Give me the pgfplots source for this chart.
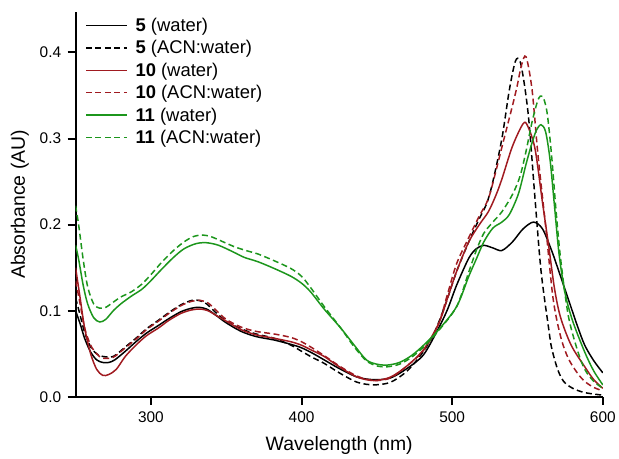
\documentclass[border=0pt]{standalone}
\usepackage{fontspec}
\setmainfont{Liberation Sans}
\usepackage{pgfplots}
\pgfplotsset{compat=1.18}

\definecolor{cred}{RGB}{160,26,32}
\definecolor{cgreen}{RGB}{28,150,28}

\begin{document}
\begin{tikzpicture}
\begin{axis}[
    name=ax,
    scale only axis,
    width=530pt, height=387pt,
    xmin=250, xmax=600,
    ymin=0, ymax=0.447,
    axis lines*=left,
    axis line style={line width=2pt, -},
    xtick={300,400,500,600},
    ytick={0,0.1,0.2,0.3,0.4},
    tick align=outside,
    major tick length=8pt,
    every tick/.style={black, line width=2pt},
    minor tick num=0,
    /pgf/number format/assume math mode=true,
    ticklabel style={font=\fontsize{15.5}{17}\selectfont},
    xticklabel style={yshift=-3pt},
    yticklabel style={xshift=-3pt, /pgf/number format/.cd, fixed, fixed zerofill, precision=1},
    xlabel={Wavelength (nm)},
    ylabel={Absorbance (AU)},
    label style={font=\fontsize{19.5}{21}\selectfont},
    xlabel style={at={(axis description cs:0.5,-0.1266)}, anchor=center},
    ylabel style={at={(axis description cs:-0.1057,0.5)}, anchor=center},
    legend cell align=left,
    legend style={at={(axis description cs:0.018,0.987)}, anchor=north west,
        draw=none, fill=none, inner sep=0pt, row sep=5.6pt,
        font=\fontsize{18.5}{20}\selectfont,
        nodes={inner sep=1pt},
        /tikz/every odd column/.append style={column sep=7pt}},
    legend image code/.code={\draw[#1] (0pt,0pt) -- (41pt,0pt);},
    every axis plot/.append style={line width=1.5pt, mark=none, smooth},
]
% 5 (water)
\addplot[black] coordinates {
(250,0.100) (253,0.085) (256,0.068) (260,0.052) (264,0.043) (268,0.040) (272,0.040)
(276,0.043) (283,0.053) (290,0.064) (297,0.074) (305,0.083) (312,0.091) (320,0.099)
(327,0.103) (332,0.104) (337,0.102) (343,0.095) (350,0.086) (360,0.076) (370,0.070)
(382,0.066) (393,0.061) (400,0.057) (407,0.051) (415,0.043) (425,0.033) (437,0.023)
(448,0.020) (459,0.022) (470,0.033) (481,0.049) (491,0.080) (497,0.102) (503,0.130)
(511,0.161) (516,0.172) (521,0.176) (527,0.173) (533,0.170) (540,0.180) (547,0.195)
(554,0.203) (560,0.195) (566,0.170) (570,0.150) (577,0.114) (583,0.083) (588,0.060)
(594,0.042) (600,0.028)
};
\addlegendentry{\textbf{5} (water)}
% 5 (ACN:water)
\addplot[black, dash pattern=on 6pt off 3.5pt] coordinates {
(250,0.115) (253,0.095) (256,0.075) (260,0.058) (264,0.050) (268,0.047) (275,0.047)
(283,0.058) (290,0.068) (297,0.079) (305,0.089) (312,0.098) (320,0.107) (327,0.112)
(332,0.112) (337,0.108) (343,0.098) (350,0.088) (360,0.079) (370,0.073) (382,0.068)
(393,0.060) (400,0.053) (407,0.046) (415,0.039) (425,0.028) (437,0.017) (448,0.014)
(459,0.017) (470,0.030) (481,0.053) (489,0.078) (496,0.110) (503,0.146) (511,0.180)
(518,0.207) (523,0.225) (527,0.250) (533,0.300) (538,0.357) (542,0.390) (545,0.390)
(548,0.362) (551,0.319) (555,0.230) (559,0.146) (564,0.080) (566,0.057) (570,0.032)
(574,0.018) (580,0.010) (588,0.005) (600,0.002)
};
\addlegendentry{\textbf{5} (ACN:water)}
% 10 (water)
\addplot[cred] coordinates {
(250,0.150) (253,0.115) (256,0.080) (260,0.050) (264,0.032) (268,0.025) (272,0.026)
(277,0.032) (283,0.047) (290,0.060) (297,0.071) (305,0.080) (312,0.089) (320,0.097)
(327,0.101) (333,0.102) (338,0.100) (343,0.095) (350,0.088) (360,0.078) (370,0.072)
(382,0.068) (393,0.064) (400,0.060) (407,0.054) (415,0.047) (425,0.035) (437,0.023)
(448,0.019) (459,0.023) (470,0.036) (481,0.055) (491,0.085) (497,0.115) (503,0.146)
(511,0.180) (518,0.200) (524,0.215) (529,0.234) (533,0.253) (540,0.291) (547,0.317)
(550,0.315) (555,0.288) (560,0.225) (564,0.176) (568,0.125) (572,0.092) (579,0.060)
(588,0.035) (594,0.020) (600,0.010)
};
\addlegendentry{\textbf{10} (water)}
% 10 (ACN:water)
\addplot[cred, dash pattern=on 6pt off 3.5pt] coordinates {
(250,0.135) (253,0.108) (256,0.080) (260,0.060) (264,0.050) (268,0.045) (275,0.046)
(283,0.057) (290,0.067) (297,0.078) (305,0.088) (312,0.097) (320,0.106) (327,0.111)
(333,0.112) (338,0.109) (343,0.101) (350,0.090) (360,0.081) (370,0.076) (382,0.073)
(393,0.069) (400,0.064) (407,0.057) (415,0.048) (425,0.036) (437,0.024) (448,0.019)
(459,0.022) (470,0.036) (481,0.054) (491,0.085) (497,0.120) (503,0.155) (511,0.185)
(518,0.210) (524,0.230) (529,0.262) (533,0.290) (540,0.338) (543,0.360) (546,0.385)
(549,0.395) (553,0.357) (557,0.280) (562,0.199) (567,0.114) (572,0.070) (577,0.045)
(583,0.028) (588,0.018) (594,0.011) (600,0.007)
};
\addlegendentry{\textbf{10} (ACN:water)}
% 11 (water)
\addplot[cgreen] coordinates {
(250,0.176) (252,0.160) (255,0.130) (258,0.108) (262,0.092) (266,0.087) (270,0.090)
(275,0.100) (280,0.108) (287,0.117) (294,0.125) (300,0.135) (307,0.148) (315,0.162)
(322,0.172) (330,0.178) (337,0.179) (345,0.176) (355,0.168) (362,0.162) (371,0.157)
(382,0.149) (393,0.140) (400,0.132) (406,0.122) (415,0.102) (426,0.080) (435,0.060)
(443,0.043) (450,0.038) (457,0.037) (465,0.040) (473,0.048) (481,0.060) (491,0.078)
(503,0.105) (511,0.140) (516,0.160) (521,0.180) (527,0.196) (533,0.203) (538,0.212)
(544,0.236) (549,0.270) (553,0.295) (556,0.310) (559,0.316) (562,0.308) (565,0.275)
(568,0.220) (571,0.165) (575,0.120) (580,0.088) (588,0.052) (594,0.030) (600,0.014)
};
\addlegendentry{\textbf{11} (water)}
% 11 (ACN:water)
\addplot[cgreen, dash pattern=on 6pt off 3.5pt] coordinates {
(250,0.222) (252,0.200) (255,0.160) (258,0.128) (262,0.108) (266,0.103) (270,0.104)
(275,0.110) (280,0.116) (287,0.122) (294,0.131) (300,0.142) (307,0.156) (315,0.170)
(322,0.180) (328,0.186) (334,0.188) (340,0.186) (348,0.180) (356,0.174) (365,0.169)
(371,0.166) (382,0.158) (393,0.149) (400,0.140) (406,0.127) (415,0.105) (426,0.080)
(435,0.058) (443,0.042) (450,0.036) (457,0.035) (465,0.038) (473,0.046) (481,0.058)
(491,0.077) (503,0.105) (511,0.145) (516,0.170) (521,0.190) (527,0.203) (533,0.215)
(540,0.235) (545,0.256) (549,0.285) (553,0.319) (557,0.345) (560,0.349) (563,0.330)
(566,0.280) (569,0.215) (572,0.160) (577,0.095) (583,0.055) (588,0.032) (594,0.018)
(600,0.010)
};
\addlegendentry{\textbf{11} (ACN:water)}
\end{axis}
% fix the page to the reference frame around the axis box
\path ([shift={(-76pt,-60pt)}]ax.south west) rectangle ([shift={(543pt,399pt)}]ax.south west);
\end{tikzpicture}
\end{document}
